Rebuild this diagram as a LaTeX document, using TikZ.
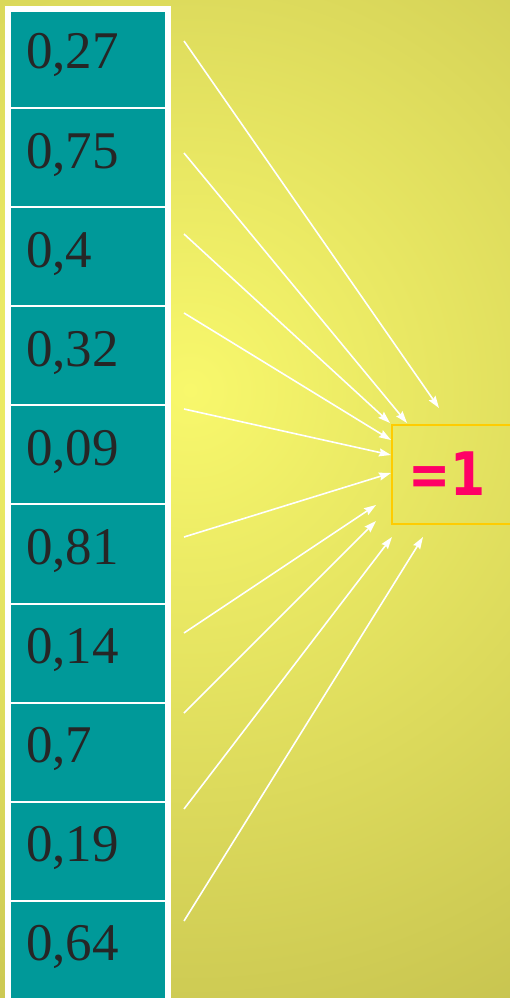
\documentclass[tikz,border=0pt]{standalone}
\usepackage{fontspec}
\setmainfont{Liberation Serif}
\newfontfamily\eqfont{DejaVu Sans}
\usetikzlibrary{arrows.meta}
\definecolor{cellteal}{HTML}{009999}
\definecolor{numgray}{HTML}{262626}
\definecolor{bgin}{HTML}{F8F86C}
\definecolor{bgout}{HTML}{B3AE44}
\definecolor{boxc}{HTML}{FFCC00}
\definecolor{eqpink}{HTML}{FF0066}
\tikzset{
  cell/.style={fill=cellteal, draw=none, inner sep=0pt, outer sep=0pt, minimum width=154pt, anchor=north west},
  num/.style={text=numgray, font=\fontsize{53}{53}\selectfont, inner sep=0pt, anchor=base west},
  arr/.style={draw=white, line width=1.6pt, -{Stealth[length=12pt, width=8pt, inset=1.5pt]}},
}
\begin{document}
\begin{tikzpicture}[x=1pt,y=-1pt]
\useasboundingbox (0,0) rectangle (510,998);
\begin{scope}
\clip (0,0) rectangle (510,998);
\shade[inner color=bgin, outer color=bgout] (190,390) circle (1000);
\fill[white] (5,6) rectangle (171,1010);
\node[cell, minimum height=95pt]   (c1)  at (11,12) {};
\node[cell, minimum height=97.1pt] (c2)  at (11,109.0) {};
\node[cell, minimum height=97.1pt] (c3)  at (11,208.1) {};
\node[cell, minimum height=97.1pt] (c4)  at (11,307.2) {};
\node[cell, minimum height=97.1pt] (c5)  at (11,406.3) {};
\node[cell, minimum height=97.1pt] (c6)  at (11,505.4) {};
\node[cell, minimum height=97.1pt] (c7)  at (11,604.5) {};
\node[cell, minimum height=97.1pt] (c8)  at (11,703.6) {};
\node[cell, minimum height=97.1pt] (c9)  at (11,802.7) {};
\node[cell, minimum height=105pt]  (c10) at (11,901.8) {};
\node[num] (v1)  at (26,69)    {0,27};
\node[num] (v2)  at (26,168.1) {0,75};
\node[num] (v3)  at (26,267.2) {0,4};
\node[num] (v4)  at (26,366.3) {0,32};
\node[num] (v5)  at (26,465.4) {0,09};
\node[num] (v6)  at (26,564.5) {0,81};
\node[num] (v7)  at (26,663.6) {0,14};
\node[num] (v8)  at (26,762.7) {0,7};
\node[num] (v9)  at (26,861.8) {0,19};
\node[num] (v10) at (26,960.9) {0,64};
\node[draw=boxc, line width=2pt, inner sep=0pt, minimum width=140pt, minimum height=99pt, anchor=north west] (box) at (391,424) {};
\node[text=eqpink, font=\eqfont\bfseries\fontsize{60}{60}\selectfont, inner sep=0pt, anchor=base west] (eq) at (408,495) {\scalebox{0.84}[1]{=1}};
\coordinate (s1) at (184,41);   \coordinate (t1) at (439,408);
\coordinate (s2) at (184,153);  \coordinate (t2) at (407,423);
\coordinate (s3) at (184,234);  \coordinate (t3) at (390,423);
\coordinate (s4) at (184,313);  \coordinate (t4) at (391,440);
\coordinate (s5) at (184,409);  \coordinate (t5) at (391,455);
\coordinate (s6) at (184,537);  \coordinate (t6) at (391,473);
\coordinate (s7) at (184,633);  \coordinate (t7) at (376,505);
\coordinate (s8) at (184,713);  \coordinate (t8) at (376,521);
\coordinate (s9) at (184,809);  \coordinate (t9) at (392,537);
\coordinate (s10) at (184,921); \coordinate (t10) at (423,537);
\foreach \k in {1,...,10} { \draw[arr] (s\k) -- (t\k); }
\end{scope}
\end{tikzpicture}
\end{document}
